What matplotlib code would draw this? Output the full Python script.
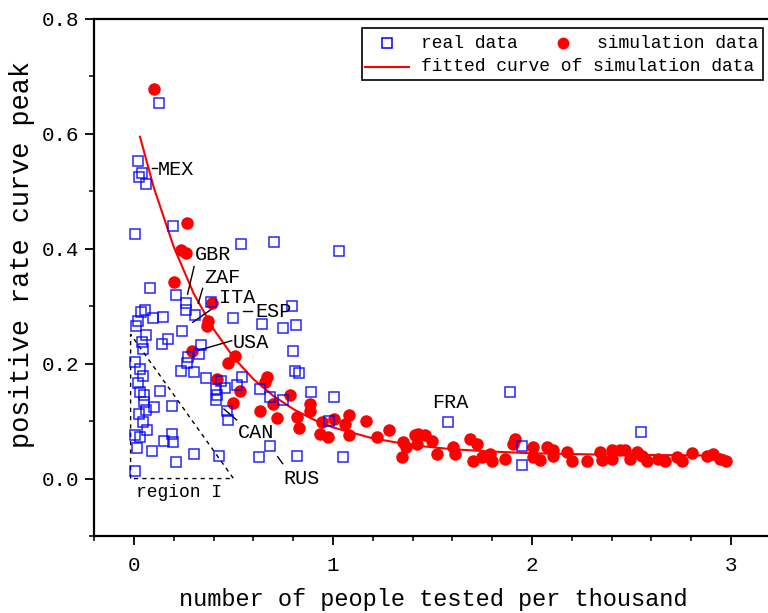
import matplotlib
matplotlib.use('Agg')
import matplotlib.pyplot as plt
from matplotlib.patches import Rectangle
from matplotlib.lines import Line2D
from matplotlib.ticker import MultipleLocator, FixedLocator

plt.rcParams['font.family'] = ['Liberation Mono', 'DejaVu Sans']

# ---------------- data ----------------
real_x = [0.126, 0.018, 0.039, 0.023, 0.059, 0.005, 0.194, 0.080, 0.536, 0.704,
          1.032, 0.209, 0.261, 0.385, 0.261, 0.307, 0.055, 0.035, 0.095, 0.147,
          0.012, 0.018, 0.060, 0.243, 0.496, 0.641, 0.169, 0.139, 0.337, 0.039,
          0.792, 0.750, 0.812, 0.797, 0.809, 0.831, 0.543, 0.519, 0.632, 0.683,
          0.747, 0.888, 1.007, 0.978, 0.682, 0.628, 0.821, 1.052, 0.043, 0.273,
          0.328, 0.265, 0.005, 0.234, 0.302, 0.030, 0.047, 0.362, 0.022, 0.437,
          0.412, 0.457, 0.417, 0.410, 0.131, 0.030, 0.052, 0.052, 0.193, 0.102,
          0.059, 0.027, 0.047, 0.064, 0.030, 0.005, 0.189, 0.194, 0.151, 0.013,
          0.092, 0.303, 0.429, 0.211, 0.005, 0.469, 0.471, 1.889, 1.578, 1.950,
          1.950, 2.546]
real_y = [0.653, 0.552, 0.532, 0.525, 0.513, 0.425, 0.440, 0.332, 0.409, 0.412,
          0.396, 0.319, 0.305, 0.307, 0.294, 0.284, 0.294, 0.290, 0.279, 0.282,
          0.266, 0.274, 0.250, 0.257, 0.279, 0.269, 0.243, 0.235, 0.232, 0.237,
          0.301, 0.262, 0.268, 0.222, 0.188, 0.183, 0.176, 0.162, 0.156, 0.142,
          0.136, 0.150, 0.142, 0.101, 0.056, 0.038, 0.040, 0.037, 0.225, 0.211,
          0.216, 0.201, 0.203, 0.188, 0.185, 0.190, 0.178, 0.175, 0.167, 0.170,
          0.156, 0.158, 0.146, 0.136, 0.152, 0.150, 0.145, 0.133, 0.127, 0.124,
          0.120, 0.113, 0.098, 0.084, 0.073, 0.076, 0.077, 0.063, 0.065, 0.053,
          0.048, 0.042, 0.040, 0.028, 0.013, 0.118, 0.102, 0.150, 0.098, 0.056,
          0.024, 0.081]

sim_x = [0.102, 0.268, 0.236, 0.261, 0.199, 0.393, 0.370, 0.365, 0.293, 0.508,
         0.474, 0.415, 0.667, 0.658, 0.534, 0.499, 0.633, 0.697, 0.720, 0.784,
         0.817, 0.831, 0.884, 0.884, 0.943, 0.935, 0.977, 1.005, 1.060, 1.082,
         1.082, 1.166, 1.219, 1.283, 1.353, 1.345, 1.367, 1.412, 1.429, 1.462,
         1.496, 1.420, 1.521, 1.605, 1.613, 1.688, 1.722, 1.705, 1.747, 1.789,
         1.797, 1.864, 1.906, 1.915, 2.007, 2.007, 2.040, 2.074, 2.107, 2.107,
         2.174, 2.199, 2.274, 2.342, 2.350, 2.400, 2.400, 2.442, 2.467, 2.492,
         2.526, 2.551, 2.576, 2.635, 2.668, 2.727, 2.752, 2.802, 2.877, 2.911,
         2.945, 2.975]
sim_y = [0.678, 0.445, 0.398, 0.393, 0.343, 0.305, 0.275, 0.265, 0.222, 0.213,
         0.201, 0.174, 0.177, 0.168, 0.152, 0.131, 0.117, 0.129, 0.106, 0.145,
         0.108, 0.088, 0.130, 0.117, 0.098, 0.078, 0.072, 0.104, 0.095, 0.110,
         0.075, 0.100, 0.072, 0.085, 0.063, 0.037, 0.055, 0.075, 0.078, 0.075,
         0.066, 0.060, 0.043, 0.055, 0.043, 0.069, 0.060, 0.031, 0.037, 0.043,
         0.031, 0.034, 0.060, 0.069, 0.055, 0.037, 0.032, 0.055, 0.049, 0.040,
         0.046, 0.031, 0.031, 0.046, 0.033, 0.049, 0.034, 0.049, 0.050, 0.034,
         0.046, 0.040, 0.031, 0.034, 0.030, 0.037, 0.031, 0.044, 0.040, 0.042,
         0.034, 0.031]

fit_x = [0.03, 0.10, 0.20, 0.30, 0.40, 0.50, 0.60, 0.70, 0.80, 0.90,
         1.00, 1.20, 1.40, 1.60, 1.80, 2.00, 2.30, 2.60, 2.97]
fit_y = [0.595, 0.506, 0.403, 0.322, 0.260, 0.211, 0.173, 0.144, 0.121, 0.103,
         0.089, 0.070, 0.058, 0.051, 0.047, 0.044, 0.042, 0.041, 0.040]

x_ticks = [0, 1, 2, 3]
y_ticks = [0.0, 0.2, 0.4, 0.6, 0.8]
x_ticklabels = ['0', '1', '2', '3']
y_ticklabels = ['0.0', '0.2', '0.4', '0.6', '0.8']

# ---------------- figure ----------------
W, H = 768, 613
fig = plt.figure(figsize=(W / 100, H / 100), dpi=100)


def fx(px):
    return px / W


def fy(py):
    return (H - py) / H


ax = fig.add_axes([fx(94.2), fy(536), 676.6 / W, 517 / H])
ax.set_xlim(-0.2, 3.2)
ax.set_ylim(-0.1, 0.8)

ax.plot(fit_x, fit_y, color='#ff0000', lw=1.5, zorder=2)
ax.plot(sim_x, sim_y, linestyle='none', marker='o', ms=9, color='#ff0000',
        markeredgewidth=0, zorder=3)
ax.plot(real_x, real_y, linestyle='none', marker='s', ms=7.8, markerfacecolor='none',
        markeredgecolor='#0000ff', markeredgewidth=1.1, alpha=0.85, zorder=4)

# region I triangle
ax.plot([-0.017, -0.017, 0.5, -0.017], [0.0, 0.251, 0.0, 0.0], color='black',
        lw=1, linestyle=(0, (3, 3)), zorder=1)
ax.text(0.01, -0.024, 'region I', fontsize=13, ha='left', va='center')

# annotations
ann_fs = 14.5
ax.text(0.121, 0.538, 'MEX', fontsize=ann_fs, ha='left', va='center')
ax.plot([0.092, 0.114], [0.541, 0.541], color='black', lw=1)
ax.text(0.307, 0.390, 'GBR', fontsize=ann_fs, ha='left', va='center')
ax.plot([0.302, 0.269], [0.369, 0.321], color='black', lw=1)
ax.text(0.353, 0.350, 'ZAF', fontsize=ann_fs, ha='left', va='center')
ax.plot([0.345, 0.323], [0.331, 0.305], color='black', lw=1)
ax.text(0.427, 0.316, 'ITA', fontsize=ann_fs, ha='left', va='center')
ax.plot([0.415, 0.295], [0.301, 0.272], color='black', lw=1)
ax.text(0.608, 0.290, 'ESP', fontsize=ann_fs, ha='left', va='center')
ax.plot([0.549, 0.591], [0.291, 0.291], color='black', lw=1)
ax.text(0.494, 0.237, 'USA', fontsize=ann_fs, ha='left', va='center')
ax.plot([0.491, 0.323], [0.240, 0.223], color='black', lw=1)
ax.text(0.524, 0.081, 'CAN', fontsize=ann_fs, ha='left', va='center')
ax.plot([0.516, 0.452], [0.102, 0.121], color='black', lw=1)
ax.text(0.750, 0.000, 'RUS', fontsize=ann_fs, ha='left', va='center')
ax.plot([0.747, 0.722], [0.026, 0.038], color='black', lw=1)
ax.text(1.499, 0.133, 'FRA', fontsize=ann_fs, ha='left', va='center')

# axes styling
for s in ['left', 'bottom', 'top']:
    ax.spines[s].set_linewidth(1.6)
ax.spines['right'].set_visible(False)
ax.xaxis.set_major_locator(FixedLocator(x_ticks))
ax.yaxis.set_major_locator(FixedLocator(y_ticks))
ax.set_xticklabels(x_ticklabels)
ax.set_yticklabels(y_ticklabels)
ax.xaxis.set_minor_locator(MultipleLocator(0.2))
ax.yaxis.set_minor_locator(MultipleLocator(0.1))
ax.tick_params(which='major', direction='out', length=6.5, width=1.3, labelsize=15,
               top=False, right=False)
ax.tick_params(which='minor', direction='out', length=3.8, width=1.1, top=False, right=False)
ax.tick_params(axis='x', which='major', pad=8)
ax.tick_params(axis='y', which='major', pad=4)

ax.set_xlabel('number of people tested per thousand', fontsize=17)
ax.set_ylabel('positive rate curve peak', fontsize=19.4)
ax.xaxis.set_label_coords(0.5007, -0.10)
ax.yaxis.set_label_coords(-0.0876, 0.545)

# manual legend
fig.add_artist(Rectangle((fx(362), fy(80)), (763 - 362) / W, (80 - 28) / H,
                         transform=fig.transFigure, fill=False, edgecolor='black',
                         linewidth=1.2))
fig.add_artist(Line2D([fx(387.3)], [fy(42.7)], transform=fig.transFigure, marker='s',
                      ms=7, markerfacecolor='none', markeredgecolor='#0000ff',
                      markeredgewidth=1.1, linestyle='none'))
fig.add_artist(Line2D([fx(563.3)], [fy(42.7)], transform=fig.transFigure, marker='o',
                      ms=8.5, color='#ff0000', markeredgewidth=0, linestyle='none'))
fig.add_artist(Line2D([fx(365), fx(409.3)], [fy(66.7), fy(66.7)],
                      transform=fig.transFigure, color='#ff0000', lw=1.5))
leg_fs = 13.0
fig.text(fx(420.7), fy(43), 'real data', fontsize=leg_fs, ha='left', va='center')
fig.text(fx(597.3), fy(43), 'simulation data', fontsize=leg_fs, ha='left', va='center')
fig.text(fx(420.7), fy(66.7), 'fitted curve of simulation data', fontsize=leg_fs,
         ha='left', va='center')

fig.savefig('out.png', dpi=100)
